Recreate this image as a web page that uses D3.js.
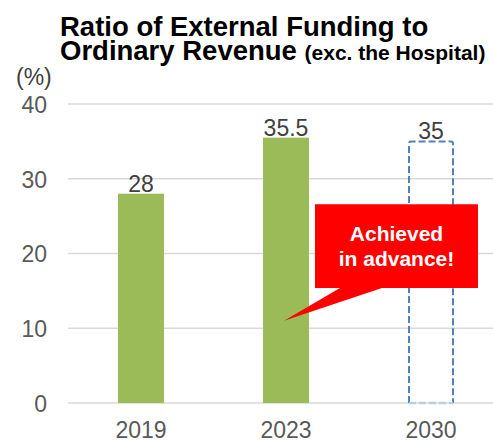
<!DOCTYPE html>
<html>
<head>
<meta charset="utf-8">
<script src="https://cdn.jsdelivr.net/npm/d3@7"></script>
<style>
  html, body { margin: 0; padding: 0; background: #fff; }
  svg { display: block; font-family: "Liberation Sans", Arial, sans-serif; }
</style>
</head>
<body>
<svg id="chart" width="493" height="441"></svg>
<script>
// Ratio of external funding to ordinary revenue (%), hospital excluded
const years = ["2019", "2023", "2030"];
const ratios = [28, 35.5, 35];
const kinds = ["actual", "actual", "target"];
const yTicks = [0, 10, 20, 30, 40];
const titleLines = ["Ratio of External Funding to", "Ordinary Revenue"];
const titleNote = "(exc. the Hospital)";
const unitLabel = "(%)";
const calloutLines = ["Achieved", "in advance!"];

const W = 493, H = 441;
const svg = d3.select("#chart");

const x = d3.scaleBand()
  .domain(years)
  .range([68.5, 503.5])
  .paddingInner(0.683)
  .paddingOuter(0.683 / 2);

const y = d3.scaleLinear().domain([0, 40]).range([403, 104]);

// Gridlines
svg.append("g")
  .selectAll("line")
  .data(yTicks)
  .join("line")
  .attr("x1", 68).attr("x2", W)
  .attr("y1", d => y(d)).attr("y2", d => y(d))
  .attr("stroke", "#d9d9d9")
  .attr("stroke-width", 1.5);

// Y axis labels
const yAxis = svg.append("g")
  .attr("transform", "translate(47,0)")
  .call(d3.axisLeft(y).tickValues(yTicks).tickSize(0).tickPadding(0));
yAxis.select(".domain").remove();
yAxis.selectAll("text")
  .attr("font-size", 23)
  .attr("font-family", "'Liberation Sans', Arial, sans-serif")
  .attr("fill", "#595959")
  .attr("dy", "0.36em");

// X axis labels
const xAxis = svg.append("g")
  .attr("transform", `translate(0,${y(0)})`)
  .call(d3.axisBottom(x).tickSize(0).tickPadding(0));
xAxis.select(".domain").remove();
xAxis.selectAll("text")
  .attr("font-size", 23)
  .attr("font-family", "'Liberation Sans', Arial, sans-serif")
  .attr("fill", "#595959")
  .attr("dy", null)
  .attr("y", 34.5);

const data = years.map((yr, i) => ({ year: yr, value: ratios[i], kind: kinds[i] }));

// Actual bars
svg.append("g")
  .selectAll("rect")
  .data(data.filter(d => d.kind === "actual"))
  .join("rect")
  .attr("x", d => x(d.year))
  .attr("y", d => y(d.value))
  .attr("width", x.bandwidth())
  .attr("height", d => y(0) - y(d.value))
  .attr("fill", "#9bbb59");

// Target bar: dashed outline
const target = data.filter(d => d.kind === "target");
const tg = svg.append("g");
tg.selectAll("path.side")
  .data(target)
  .join("path")
  .attr("class", "side")
  .attr("d", d => {
    const x0 = x(d.year) + 1, x1 = x(d.year) + x.bandwidth() - 1;
    const t = y(d.value), b = y(0);
    return `M${x0},${b} L${x0},${t + 2} Q${x0},${t} ${x0 + 2},${t} L${x1 - 2},${t} Q${x1},${t} ${x1},${t + 2} L${x1},${b}`;
  })
  .attr("fill", "none")
  .attr("stroke", "#4f81bd")
  .attr("stroke-width", 2)
  .attr("stroke-dasharray", "7,3");
tg.selectAll("line.bottom")
  .data(target)
  .join("line")
  .attr("class", "bottom")
  .attr("x1", d => x(d.year) + 1)
  .attr("x2", d => x(d.year) + x.bandwidth() - 1)
  .attr("y1", y(0)).attr("y2", y(0))
  .attr("stroke", "#b9cde5")
  .attr("stroke-width", 2.5)
  .attr("stroke-dasharray", "7,3");

// Value labels
svg.append("g")
  .selectAll("text")
  .data(data)
  .join("text")
  .attr("x", d => x(d.year) + x.bandwidth() / 2)
  .attr("y", d => y(d.value) - 2)
  .attr("text-anchor", "middle")
  .attr("font-size", 23)
  .attr("fill", "#404040")
  .text(d => d.value);

// Callout pointing at the 2023 bar
const cx23 = x("2023") + x.bandwidth() / 2;
const cx30 = x("2030") + x.bandwidth() / 2;
const box = { l: cx23 + 29, r: cx30 + 47, t: y(26.6), b: y(15.4) };
const tip = { x: cx23 - 2, y: y(11) };
svg.append("path")
  .attr("d", `M${box.l},${box.t} L${box.r},${box.t} L${box.r},${box.b} L${box.l + 67},${box.b} L${tip.x},${tip.y} L${box.l + 25},${box.b} L${box.l},${box.b} Z`)
  .attr("fill", "#ff0000");
const midX = (box.l + box.r) / 2;
svg.append("g")
  .selectAll("text")
  .data(calloutLines)
  .join("text")
  .attr("x", midX)
  .attr("y", (d, i) => 240.5 + i * 25)
  .attr("text-anchor", "middle")
  .attr("font-size", 21)
  .attr("font-weight", "bold")
  .attr("fill", "#ffffff")
  .text(d => d);

// Title (two tight lines, smaller note on the second)
svg.append("text")
  .attr("x", 60).attr("y", 36)
  .attr("font-size", 27.5)
  .attr("font-weight", "bold")
  .attr("fill", "#000")
  .text(titleLines[0]);
const t2 = svg.append("text")
  .attr("x", 60).attr("y", 60)
  .attr("font-weight", "bold")
  .attr("fill", "#000");
t2.append("tspan").attr("font-size", 27.5).text(titleLines[1] + " ");
t2.append("tspan").attr("font-size", 21).text(titleNote);

// Unit label
svg.append("text")
  .attr("x", 16).attr("y", 85)
  .attr("font-size", 23)
  .attr("fill", "#404040")
  .text(unitLabel);
</script>
</body>
</html>
